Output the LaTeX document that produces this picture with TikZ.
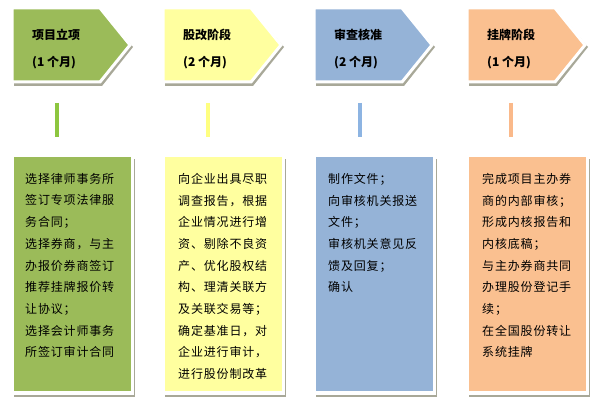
\documentclass[tikz,border=0pt]{standalone}
\usepackage{fontspec}
\setmainfont{Noto Sans CJK SC}
\newfontfamily\cjk{Noto Sans CJK SC}
\definecolor{cgreen}{HTML}{9BBB59}
\definecolor{cyellow}{HTML}{FFFF9F}
\definecolor{cblue}{HTML}{95B3D7}
\definecolor{corange}{HTML}{FAC090}
\definecolor{bgreen}{HTML}{8DC63F}
\definecolor{byellow}{HTML}{FFFF80}
\definecolor{bblue}{HTML}{8DB4E2}
\definecolor{borange}{HTML}{FAB98A}
\definecolor{cshadow}{HTML}{A8A898}
\tikzset{
  frame/.style={draw=white,line width=3pt,line join=miter},
  shadowfill/.style={fill=cshadow},
  title/.style={anchor=west,inner sep=0pt,font=\fontsize{12}{14}\selectfont\bfseries},
  body/.style={anchor=north west,inner sep=0pt,align=left,font=\fontsize{12}{21.7}\selectfont\addfontfeatures{LetterSpace=7}},
  bar/.style={line width=4pt}
}
\begin{document}
\begin{tikzpicture}[x=1pt,y=-1pt]
\useasboundingbox (0,0) rectangle (600,403);
\fill[white] (0,0) rectangle (600,403);
% pentagon arrows and boxes
\foreach \L/\c in {12/cgreen,163/cyellow,314/cblue,467/corange}{
  \fill[shadowfill] (\L+2,10) -- (\L+90,10) -- (\L+121,47) -- (\L+90,86) -- (\L+2,86) -- cycle;
  \filldraw[frame,fill=\c] (\L,8) -- (\L+88,8) -- (\L+118,45) -- (\L+88,82) -- (\L,82) -- cycle;
  \fill[shadowfill] (\L+2,159) rectangle (\L+123,397);
  \filldraw[frame,fill=\c] (\L,156) rectangle (\L+120,393);
}
% titles
\node[title] (t1a) at (32,35) {项目立项};
\node[title] (t1b) at (32,63) {(1 个月)};
\node[title] (t2a) at (183,35) {股改阶段};
\node[title] (t2b) at (183,63) {(2 个月)};
\node[title] (t3a) at (334,35) {审查核准};
\node[title] (t3b) at (334,63) {(2 个月)};
\node[title] (t4a) at (487,35) {挂牌阶段};
\node[title] (t4b) at (487,63) {(1 个月)};
% bars
\draw[bar,bgreen] (57,103) -- (57,137);
\draw[bar,byellow] (208,103) -- (208,137);
\draw[bar,bblue] (360,103) -- (360,137);
\draw[bar,borange] (511,103) -- (511,137);
% bodies
\node[body] (b1) at (25,173) {选择律师事务所\\签订专项法律服\\务合同；\\选择券商，与主\\办报价券商签订\\推荐挂牌报价转\\让协议；\\选择会计师事务\\所签订审计合同};
\node[body] (b2) at (178,173) {向企业出具尽职\\调查报告，根据\\企业情况进行增\\资、剔除不良资\\产、优化股权结\\构、理清关联方\\及关联交易等；\\确定基准日，对\\企业进行审计，\\进行股份制改革};
\node[body] (b3) at (328,173) {制作文件；\\向审核机关报送\\文件；\\审核机关意见反\\馈及回复；\\确认};
\node[body] (b4) at (482,173) {完成项目主办券\\商的内部审核；\\形成内核报告和\\内核底稿；\\与主办券商共同\\办理股份登记手\\续；\\在全国股份转让\\系统挂牌};
\end{tikzpicture}
\end{document}
